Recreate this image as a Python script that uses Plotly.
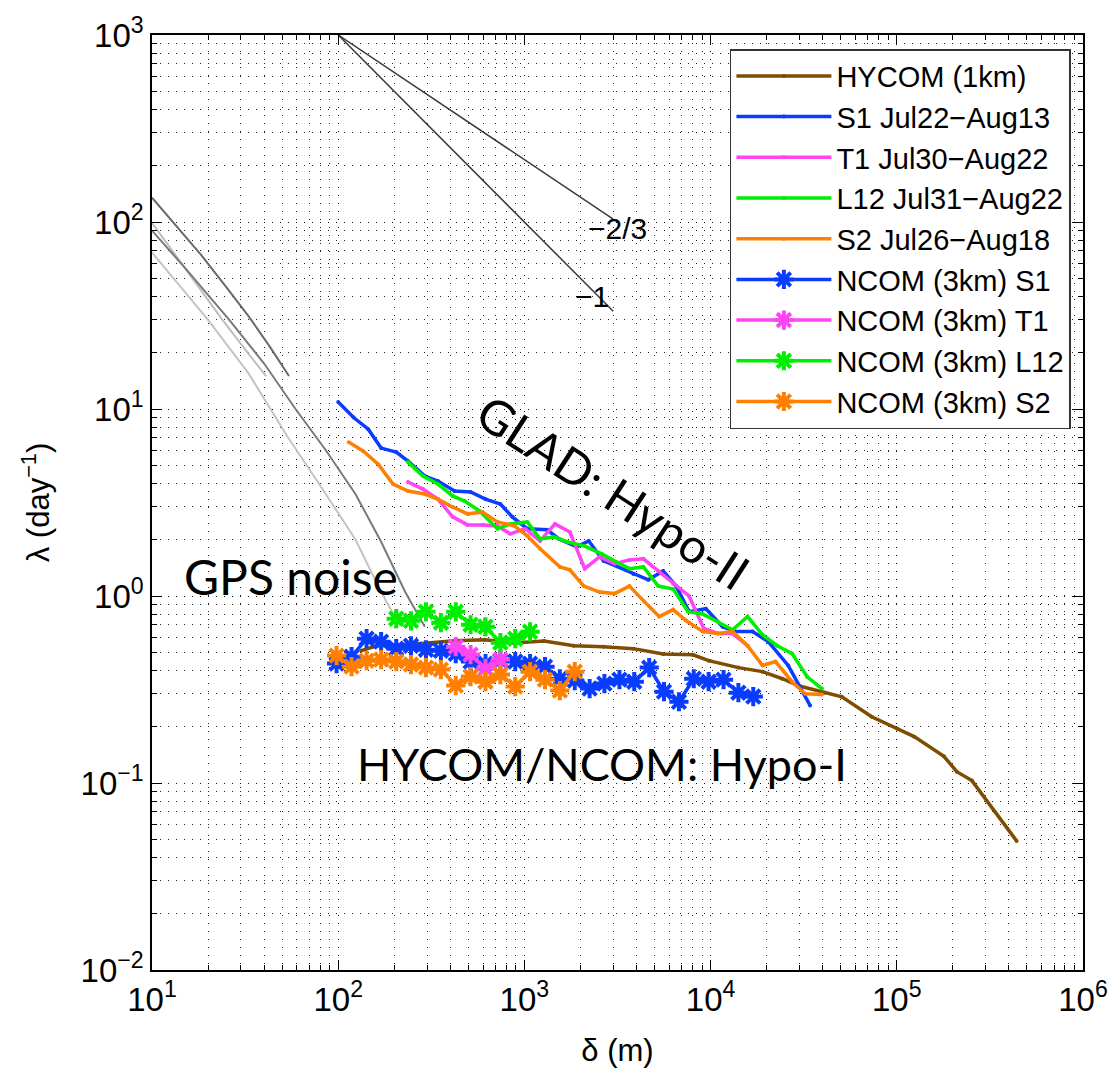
import numpy as np
import plotly.graph_objects as go

# ---------------- data ----------------
hycom_x = [133, 160, 268, 423, 611, 883, 1275, 1841, 2663, 3850, 5560, 8040, 9770, 14100, 19000,
           24300, 30000, 41100, 50700, 73300, 100700, 124000, 179000, 210000, 253000, 440000]
hycom_y = [0.51, 0.54, 0.556, 0.577, 0.584, 0.56, 0.574, 0.542, 0.536, 0.523, 0.49, 0.485, 0.451, 0.414, 0.394,
           0.361, 0.33, 0.304, 0.289, 0.226, 0.195, 0.177, 0.139, 0.115, 0.103, 0.049]

s1_x = [100, 121, 145, 170, 205, 237, 292, 343, 422, 514, 618, 743, 861, 1036, 1324, 1535, 1912, 2215, 2663,
        3850, 4630, 5560, 6530, 7660, 9430, 11600, 13600, 16800, 20400, 26100, 34200]
s1_y = [10.9, 9.0, 7.8, 6.18, 5.89, 5.27, 4.38, 4.12, 3.64, 3.6, 3.3, 3.1, 2.65, 2.29, 2.26, 2.02, 1.83, 1.97, 1.54,
        1.31, 1.22, 1.36, 1.13, 0.825, 0.855, 0.685, 0.645, 0.645, 0.57, 0.425, 0.26]

t1_x = [237, 285, 343, 412, 495, 596, 716, 840, 1010, 1214, 1460, 1754, 2109, 2536, 3048, 3665, 4355, 5236,
        6295, 7660, 9200, 10940, 13130, 15800]
t1_y = [4.07, 3.73, 3.3, 2.65, 2.4, 2.4, 2.37, 2.15, 2.29, 1.97, 2.43, 2.2, 1.40, 1.62, 1.49, 1.56, 1.58, 1.36,
        1.16, 1.0, 0.67, 0.63, 0.63, 0.542]

l12_x = [237, 285, 343, 412, 477, 574, 716, 840, 1036, 1214, 1442, 1692, 2109, 2600, 3125, 3665, 4355, 5236,
         6295, 7570, 9100, 10940, 13130, 15800, 19000, 22800, 27400, 33000, 39600]
l12_y = [5.2, 4.38, 3.97, 3.43, 3.22, 2.85, 2.29, 2.43, 2.49, 2.02, 2.07, 1.95, 1.85, 1.68, 1.52, 1.40, 1.43, 1.13,
         1.09, 0.825, 0.80, 0.728, 0.66, 0.776, 0.62, 0.542, 0.492, 0.37, 0.32]

s2_x = [114, 136, 164, 197, 237, 292, 343, 412, 495, 596, 716, 883, 1036, 1214, 1552, 1754, 2084, 2536, 3048,
        3665, 4406, 5297, 6295, 7380, 9100, 10940, 13130, 15800, 19000, 22300, 27400, 32200, 39600]
s2_y = [6.65, 5.96, 5.07, 3.97, 3.64, 3.51, 3.3, 2.99, 2.75, 2.81, 2.49, 2.37, 2.1, 1.79, 1.43, 1.38, 1.13, 1.05, 1.03,
        1.13, 0.933, 0.776, 0.846, 0.739, 0.645, 0.63, 0.645, 0.542, 0.425, 0.446, 0.348, 0.30, 0.297]

ncom_s1_x = [98, 118, 142, 170, 205, 246, 296, 356, 428, 514, 618, 743, 893, 1073, 1290, 1550, 1864, 2240,
             2690, 3240, 3890, 4680, 5620, 6760, 8120, 9760, 11730, 14100, 16950]
ncom_s1_y = [0.435, 0.474, 0.591, 0.570, 0.523, 0.542, 0.516, 0.510, 0.491, 0.446, 0.435, 0.451, 0.446, 0.435,
             0.419, 0.361, 0.353, 0.320, 0.340, 0.357, 0.348, 0.414, 0.308, 0.272, 0.361, 0.348, 0.357, 0.304, 0.290]

ncom_t1_x = [428, 514, 618, 743]
ncom_t1_y = [0.536, 0.486, 0.409, 0.457]

ncom_l12_x = [205, 246, 296, 356, 428, 514, 618, 743, 893, 1073]
ncom_l12_y = [0.756, 0.737, 0.823, 0.72, 0.823, 0.702, 0.685, 0.563, 0.591, 0.644]

ncom_s2_x = [98, 118, 142, 170, 205, 246, 296, 356, 428, 514, 618, 743, 893, 1073, 1290, 1550, 1864]
ncom_s2_y = [0.480, 0.419, 0.451, 0.457, 0.446, 0.430, 0.414, 0.404, 0.332, 0.371, 0.348, 0.380, 0.328, 0.394,
             0.357, 0.312, 0.394]

# GPS noise curves
gps_a_x = [10, 14, 18.3, 25, 33.3, 43, 54.4]
gps_a_y = [135, 92, 67, 45, 31, 21.5, 15]
gps_b_x = [10, 15, 26, 40, 59, 86, 124, 170, 229, 292]
gps_b_y = [90, 57, 30, 17.5, 10, 6.0, 3.5, 1.95, 1.05, 0.685]
gps_c_x = [10, 16, 23.9, 32, 41]
gps_c_y = [99, 52, 30, 20.5, 15]
gps_d_x = [10, 14.6, 20, 33, 54, 80, 124, 170, 215]
gps_d_y = [68.7, 44, 30, 15.5, 7.0, 3.9, 2.0, 1.05, 0.69]

# reference slopes
slope_x = [100, 3000]
slope_m1_y = [1000, 33.3]
slope_m23_y = [1000, 103.6]

x_ticks = [1e1, 1e2, 1e3, 1e4, 1e5, 1e6]
x_ticktext = ["10<sup>1</sup>", "10<sup>2</sup>", "10<sup>3</sup>", "10<sup>4</sup>", "10<sup>5</sup>", "10<sup>6</sup>"]
y_ticks = [1e-2, 1e-1, 1e0, 1e1, 1e2, 1e3]
y_ticktext = ["10<sup>−2</sup>", "10<sup>−1</sup>", "10<sup>0</sup>", "10<sup>1</sup>", "10<sup>2</sup>", "10<sup>3</sup>"]

# ---------------- figure ----------------
BROWN = "#7f4d00"
BLUE = "#0a3cff"
MAG = "#ff44f4"
GREEN = "#00ee00"
ORANGE = "#ff7f00"

fig = go.Figure()

for xs, ys, col in [(gps_d_x, gps_d_y, "#c4c4c4"), (gps_c_x, gps_c_y, "#bdbdbd"),
                    (gps_b_x, gps_b_y, "#7a7a7a"), (gps_a_x, gps_a_y, "#6a6a6a")]:
    fig.add_trace(go.Scatter(x=xs, y=ys, mode="lines", line=dict(color=col, width=2),
                             showlegend=False, hoverinfo="skip"))

for ys in [slope_m23_y, slope_m1_y]:
    fig.add_trace(go.Scatter(x=slope_x, y=ys, mode="lines", line=dict(color="#3a3a3a", width=1.5),
                             showlegend=False, hoverinfo="skip"))

line_series = [
    ("HYCOM (1km)", hycom_x, hycom_y, BROWN),
    ("S1 Jul22−Aug13", s1_x, s1_y, BLUE),
    ("T1 Jul30−Aug22", t1_x, t1_y, MAG),
    ("L12 Jul31−Aug22", l12_x, l12_y, GREEN),
    ("S2 Jul26−Aug18", s2_x, s2_y, ORANGE),
]
for name, xs, ys, col in line_series:
    fig.add_trace(go.Scatter(x=xs, y=ys, mode="lines+markers", name=name,
                             line=dict(color=col, width=3.5),
                             marker=dict(color=col, size=4, symbol="circle")))

ncom_series = [
    ("NCOM (3km) S1", ncom_s1_x, ncom_s1_y, BLUE),
    ("NCOM (3km) T1", ncom_t1_x, ncom_t1_y, MAG),
    ("NCOM (3km) L12", ncom_l12_x, ncom_l12_y, GREEN),
    ("NCOM (3km) S2", ncom_s2_x, ncom_s2_y, ORANGE),
]
for name, xs, ys, col in ncom_series:
    fig.add_trace(go.Scatter(x=xs, y=ys, mode="lines+markers", name=name,
                             line=dict(color=col, width=3.5),
                             marker=dict(symbol="asterisk-open", size=16, color=col,
                                         line=dict(color=col, width=4))))

minor_vals = [m * 10.0 ** k for k in range(-3, 7) for m in range(2, 10)]
grid_dash = "1px,7px"
axis_common = dict(
    type="log", tickmode="array", ticks="inside", ticklen=10, tickwidth=1, tickcolor="black",
    mirror="allticks", showline=True, linecolor="black", linewidth=1.5,
    showgrid=True, gridcolor="#111111", gridwidth=1, griddash=grid_dash, zeroline=False,
    tickfont=dict(family="Liberation Sans", size=33, color="black"),
    minor=dict(tickmode="array", tickvals=minor_vals, ticks="inside", ticklen=5, tickcolor="black",
               showgrid=True, gridcolor="#222222", gridwidth=1, griddash=grid_dash),
)

fig.update_xaxes(range=[1, 6], tickvals=x_ticks, ticktext=x_ticktext,
                 title=dict(text="δ (m)", font=dict(family="Liberation Sans", size=31, color="black"), standoff=22),
                 **axis_common)
fig.update_yaxes(range=[-2, 3], tickvals=y_ticks, ticktext=y_ticktext,
                 title=dict(text="λ (day<sup>−1</sup>)", font=dict(family="Liberation Sans", size=31, color="black"),
                            standoff=22),
                 **axis_common)

ann_font = dict(family="Lato", size=48, color="black")
fig.add_annotation(x=np.log10(55.7), y=np.log10(1.27), text="GPS noise", showarrow=False, font=ann_font)
fig.add_annotation(x=np.log10(2600), y=np.log10(0.127), text="HYCOM/NCOM: Hypo-I", showarrow=False,
                   font=dict(family="Lato", size=45, color="black"))
fig.add_annotation(x=np.log10(3000), y=np.log10(3.6), text="GLAD: Hypo-II", showarrow=False, font=ann_font,
                   textangle=33)
lab_font = dict(family="Liberation Sans", size=30, color="black")
fig.add_annotation(x=np.log10(3150), y=np.log10(92), text="−2/3", showarrow=False, font=lab_font)
fig.add_annotation(x=np.log10(2300), y=np.log10(40), text="−1", showarrow=False, font=lab_font)

fig.update_layout(
    width=1120, height=1074,
    margin=dict(l=152, r=30, t=35, b=102),
    paper_bgcolor="white", plot_bgcolor="white",
    font=dict(family="Liberation Sans", color="black"),
    legend=dict(x=0.987, y=0.985, xanchor="right", yanchor="top", bgcolor="white",
                bordercolor="#333333", borderwidth=1.5, itemwidth=95,
                font=dict(family="Liberation Sans", size=29, color="black")),
)

fig.write_html("out.html")
